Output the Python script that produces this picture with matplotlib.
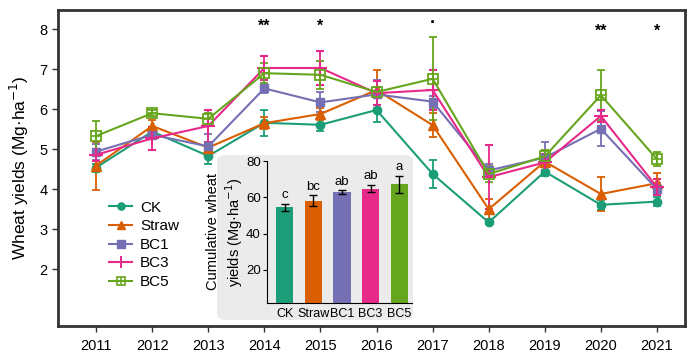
import matplotlib
matplotlib.use("Agg")
import matplotlib.pyplot as plt
from matplotlib.patches import FancyBboxPatch
from matplotlib.lines import Line2D
from matplotlib.legend_handler import HandlerTuple

plt.rcParams['font.family'] = ['Liberation Sans', 'DejaVu Sans']

years = [2011, 2012, 2013, 2014, 2015, 2016, 2017, 2018, 2019, 2020, 2021]
treatments = ["CK", "Straw", "BC1", "BC3", "BC5"]
colors = ["#1b9e77", "#d95f02", "#7570b3", "#e7298a", "#66a61e"]

ck = [4.54, 5.44, 4.83, 5.66, 5.61, 5.98, 4.38, 3.17, 4.44, 3.61, 3.69]
ck_err = [0.10, 0.10, 0.20, 0.33, 0.15, 0.30, 0.35, 0.05, 0.12, 0.12, 0.12]
straw = [4.59, 5.58, 5.04, 5.65, 5.88, 6.48, 5.60, 3.50, 4.69, 3.88, 4.15]
straw_err = [0.60, 0.15, 0.12, 0.15, 0.15, 0.50, 0.30, 0.25, 0.30, 0.43, 0.25]
bc1 = [4.94, 5.36, 5.07, 6.52, 6.17, 6.37, 6.19, 4.47, 4.79, 5.51, 4.00]
bc1_err = [0.20, 0.10, 0.30, 0.12, 0.25, 0.35, 0.15, 0.15, 0.40, 0.44, 0.15]
bc3 = [4.86, 5.27, 5.58, 7.03, 7.03, 6.40, 6.48, 4.30, 4.67, 5.83, 4.05]
bc3_err = [0.15, 0.28, 0.40, 0.30, 0.43, 0.30, 0.50, 0.80, 0.20, 0.15, 0.20]
bc5 = [5.33, 5.90, 5.76, 6.90, 6.86, 6.43, 6.76, 4.38, 4.82, 6.35, 4.75]
bc5_err = [0.38, 0.08, 0.15, 0.25, 0.35, 0.12, 1.04, 0.20, 0.15, 0.63, 0.18]

sig_years = [2014, 2015, 2017, 2020, 2021]
sig_labels = ["**", "*", "·", "**", "*"]
sig_y = [8.08, 8.08, 8.15, 7.95, 7.95]

cum_vals = [54.5, 58.1, 62.8, 64.7, 67.2]
cum_err = [2.0, 3.0, 1.0, 2.0, 4.7]
cum_letters = ["c", "bc", "ab", "ab", "a"]

series = [ck, straw, bc1, bc3, bc5]
errs = [ck_err, straw_err, bc1_err, bc3_err, bc5_err]
markers = ["o", "^", "s", "+", "s"]

fig = plt.figure(figsize=(7, 3.6), dpi=100)
ax = fig.add_axes([58/700, 34/360, 627/700, 316/360])

handles = []
for name, vals, e, c, m in zip(treatments, series, errs, colors, markers):
    if name == "BC5":
        ax.errorbar(years, vals, yerr=e, color=c, lw=1.5, capsize=3, capthick=1.3,
                    elinewidth=1.3, marker="s", ms=6.5, mfc="none", mec=c, mew=1.3, zorder=3)
        ax.plot(years, vals, ls="none", marker="+", ms=6.5, mec=c, mew=1.2, zorder=3)
        h = (Line2D([], [], color=c, lw=1.5, marker="s", ms=5.5, mfc="none", mec=c, mew=1.2),
             Line2D([], [], ls="none", marker="+", ms=5.5, mec=c, mew=1.1))
    elif name == "BC3":
        ax.errorbar(years, vals, yerr=e, color=c, lw=1.5, capsize=3, capthick=1.3,
                    elinewidth=1.3, marker="+", ms=10, mew=1.5, zorder=3)
        h = Line2D([], [], color=c, lw=1.5, marker="+", ms=9, mew=1.4)
    else:
        ms = 6 if m != "^" else 7
        ax.errorbar(years, vals, yerr=e, color=c, lw=1.5, capsize=3, capthick=1.3,
                    elinewidth=1.3, marker=m, ms=ms, zorder=3)
        h = Line2D([], [], color=c, lw=1.5, marker=m, ms=ms - 0.8)
    handles.append(h)

for x, lab, y in zip(sig_years, sig_labels, sig_y):
    ax.text(x, y, lab, ha="center", va="center", fontsize=11.5 if lab != "·" else 13,
            fontweight="bold")

ax.set_xlim(2010.32, 2021.5)
ax.set_ylim(0.58, 8.48)
ax.set_xticks(years)
ax.set_xticklabels([str(y) for y in years])
ax.set_yticks([2, 3, 4, 5, 6, 7, 8])
ax.tick_params(axis="both", labelsize=10.5, length=4, width=1, direction="out", color="#333333")
ax.tick_params(axis="x", pad=5)
for s in ax.spines.values():
    s.set_linewidth(2)
    s.set_color("#333333")
ax.set_ylabel("Wheat yields (Mg·ha$^{-1}$)", fontsize=12.5, labelpad=6)

ax.legend(handles, treatments, loc="upper left", bbox_to_anchor=(0.06, 0.44),
          frameon=False, fontsize=11, handlelength=1.5, handletextpad=0.5,
          labelspacing=0.3,
          handler_map={tuple: HandlerTuple(ndivide=1, pad=0)})

# inset background
bg = FancyBboxPatch((217/700, 40/360), 196/700, 165/360, boxstyle="round,pad=0,rounding_size=0.015",
                    transform=fig.transFigure, facecolor="#ebebeb", edgecolor="none", zorder=4)
fig.patches.append(bg)

ins = fig.add_axes([267/700, 57.3/360, 145/700, 141.7/360], zorder=5)
ins.patch.set_alpha(0)
xpos = range(len(treatments))
ins.bar(xpos, cum_vals, width=0.6, color=colors, yerr=cum_err, capsize=3,
        error_kw=dict(ecolor="black", elinewidth=1, capthick=1))
for x, v, e, l in zip(xpos, cum_vals, cum_err, cum_letters):
    ins.text(x, v + e + 1.5, l, ha="center", va="bottom", fontsize=9.5)
ins.set_xlim(-0.62, 4.45)
ins.set_ylim(2, 80)
ins.set_yticks([20, 40, 60, 80])
ins.set_xticks(list(xpos))
ins.set_xticklabels(treatments)
ins.tick_params(axis="y", labelsize=9.5, length=3, pad=1.5)
ins.tick_params(axis="x", labelsize=9, length=0, pad=4)
ins.spines["top"].set_visible(False)
ins.spines["right"].set_visible(False)
ins.set_ylabel("Cumulative wheat\nyields (Mg·ha$^{-1}$)", fontsize=10.5, labelpad=1, linespacing=1.15)

fig.savefig("out.png", dpi=100)
